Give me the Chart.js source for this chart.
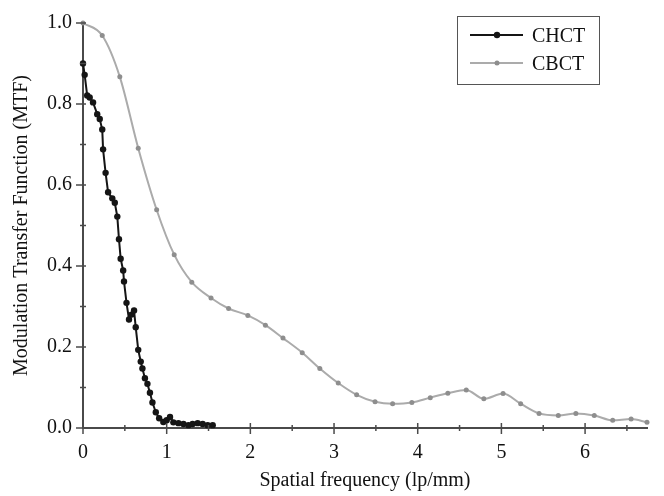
<!DOCTYPE html>
<html>
<head>
<meta charset="utf-8">
<script src="https://cdn.jsdelivr.net/npm/chart.js@4/dist/chart.umd.min.js"></script>
<style>
  html, body { margin: 0; background: #fff; }
  canvas { display: block; }
</style>
</head>
<body>
<canvas id="chart" width="664" height="496"></canvas>
<script>
// =======================
// Data
// =======================
const chctX = [0, 0.02, 0.05, 0.08, 0.12, 0.17, 0.20, 0.23, 0.24, 0.27, 0.30, 0.35, 0.38, 0.41,
  0.43, 0.45, 0.48, 0.49, 0.52, 0.55, 0.58, 0.61, 0.63, 0.66, 0.69, 0.71, 0.74, 0.77, 0.80,
  0.83, 0.87, 0.91, 0.96, 1.00, 1.04, 1.08, 1.14, 1.20, 1.26, 1.31, 1.37, 1.43, 1.49, 1.55]
const chctY = [0.90, 0.872, 0.821, 0.816, 0.804, 0.775, 0.763, 0.737, 0.688, 0.630, 0.582, 0.567,
  0.556, 0.522, 0.466, 0.418, 0.389, 0.362, 0.309, 0.268, 0.280, 0.290, 0.249, 0.193, 0.164,
  0.147, 0.123, 0.109, 0.087, 0.063, 0.039, 0.024, 0.015, 0.019, 0.027, 0.014, 0.012, 0.010,
  0.007, 0.010, 0.012, 0.010, 0.007, 0.007]

const cbctX = [0, 0.23, 0.44, 0.66, 0.88, 1.09, 1.30, 1.53, 1.74, 1.97, 2.18, 2.39, 2.62, 2.83,
  3.05, 3.27, 3.49, 3.70, 3.93, 4.15, 4.36, 4.58, 4.79, 5.02, 5.23, 5.45, 5.68, 5.89, 6.11,
  6.33, 6.55, 6.74]
const cbctY = [1.0, 0.969, 0.867, 0.691, 0.539, 0.428, 0.360, 0.321, 0.295, 0.278, 0.254, 0.222,
  0.186, 0.147, 0.111, 0.082, 0.065, 0.060, 0.063, 0.075, 0.086, 0.094, 0.072, 0.085, 0.060,
  0.036, 0.031, 0.036, 0.031, 0.019, 0.022, 0.014]

const xMax = 6.74
const xMinorStep = 0.5
const yMinorStep = 0.1

const FONT = "'Liberation Serif', 'Times New Roman', serif"
const AXIS = "#4a4a4a"

const toPoints = (xs, ys) => xs.map((x, i) => ({ x, y: ys[i] }))


// =======================
// Tick marks + boxed legend
// =======================
const decorations = {
  id: "decorations",
  afterDraw(c) {
    const ctx = c.ctx
    const sx = c.scales.x
    const sy = c.scales.y
    const ax = sy.right
    const ay = sx.top

    ctx.save()
    ctx.strokeStyle = AXIS
    ctx.lineWidth = 1.5

    // x ticks
    for (let k = 0; k * xMinorStep <= xMax; k++) {
      const px = sx.getPixelForValue(k * xMinorStep)
      const major = k % 2 === 0
      ctx.beginPath()
      ctx.moveTo(px, ay - (major ? 5 : 3))
      ctx.lineTo(px, ay + (major ? 6 : 3))
      ctx.stroke()
    }

    // y ticks
    for (let k = 0; k <= 10; k++) {
      const py = sy.getPixelForValue(k * yMinorStep)
      const major = k % 2 === 0
      ctx.beginPath()
      ctx.moveTo(ax - (major ? 7 : 3), py)
      ctx.lineTo(ax + 3, py)
      ctx.stroke()
    }

    // legend
    ctx.lineWidth = 1
    ctx.strokeStyle = "#555"
    ctx.strokeRect(457.5, 16.5, 142, 68)

    ctx.font = "20px " + FONT
    ctx.textBaseline = "middle"
    ctx.fillStyle = "#111"

    c.data.datasets.forEach((ds, i) => {
      const ly = 35 + i * 28
      ctx.strokeStyle = ds.borderColor
      ctx.lineWidth = ds.borderWidth
      ctx.beginPath()
      ctx.moveTo(470, ly)
      ctx.lineTo(523, ly)
      ctx.stroke()

      ctx.fillStyle = ds.pointBackgroundColor
      ctx.beginPath()
      ctx.arc(497, ly, ds.pointRadius, 0, Math.PI * 2)
      ctx.fill()

      ctx.fillStyle = "#111"
      ctx.fillText(ds.label, 532, ly + 2)
    })

    ctx.restore()
  }
}


// =======================
// Chart
// =======================
new Chart(document.getElementById("chart"), {
  type: "line",
  data: {
    datasets: [
      {
        label: "CHCT",
        data: toPoints(chctX, chctY),
        borderColor: "#151515",
        borderWidth: 2,
        pointRadius: 3.2,
        pointBackgroundColor: "#151515",
        pointBorderWidth: 0,
        tension: 0,
        clip: false
      },
      {
        label: "CBCT",
        data: toPoints(cbctX, cbctY),
        borderColor: "#ababab",
        borderWidth: 2,
        pointRadius: 2.5,
        pointBackgroundColor: "#8e8e8e",
        pointBorderWidth: 0,
        cubicInterpolationMode: "monotone",
        clip: false
      }
    ]
  },
  options: {
    responsive: false,
    animation: false,
    layout: { padding: { top: 13, right: 17, left: 0, bottom: 0 } },
    plugins: {
      legend: { display: false },
      tooltip: { enabled: false }
    },
    scales: {
      x: {
        type: "linear",
        min: 0,
        max: xMax,
        afterFit: s => { s.height = 68 },
        grid: { display: false, drawTicks: false },
        border: { display: true, color: AXIS, width: 2 },
        ticks: {
          stepSize: 1,
          includeBounds: false,
          padding: 13,
          color: "#111",
          font: { family: FONT, size: 20 }
        },
        title: {
          display: true,
          text: "Spatial frequency (lp/mm)",
          color: "#111",
          padding: { top: 0, bottom: 3 },
          font: { family: FONT, size: 20 }
        }
      },
      y: {
        min: 0,
        max: 1,
        afterFit: s => { s.width = 83 },
        grid: { display: false, drawTicks: false },
        border: { display: true, color: AXIS, width: 2 },
        ticks: {
          stepSize: 0.2,
          padding: 11,
          color: "#111",
          font: { family: FONT, size: 20 },
          callback: v => v.toFixed(1)
        },
        title: {
          display: true,
          text: "Modulation Transfer Function (MTF)",
          color: "#111",
          padding: { top: 10, bottom: 0 },
          font: { family: FONT, size: 20 }
        }
      }
    }
  },
  plugins: [decorations]
})
</script>
</body>
</html>
